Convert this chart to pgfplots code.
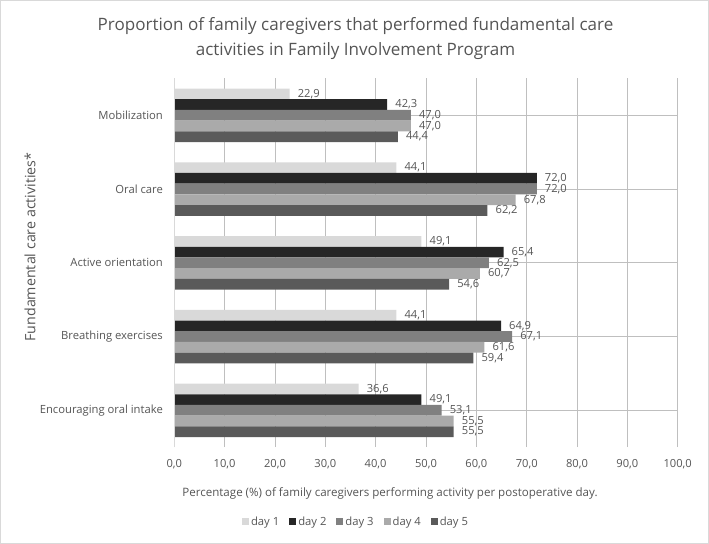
\documentclass[border=0pt]{standalone}
\usepackage{pgfplots}
\pgfplotsset{compat=1.18}
\usepackage{fontspec}
\setmainfont{Open Sans}
\definecolor{txt}{HTML}{555555}
\definecolor{grid}{HTML}{D9D9D9}
\definecolor{dA}{HTML}{D9D9D9}
\definecolor{dB}{HTML}{262626}
\definecolor{dC}{HTML}{808080}
\definecolor{dD}{HTML}{AAAAAA}
\definecolor{dE}{HTML}{5A5A5A}
\begin{document}
\begin{tikzpicture}[x=1bp,y=1bp]
\useasboundingbox (0,0) rectangle (709,544);
\draw[grid, line width=1bp] (0.5,0.5) rectangle (708.5,543.5);
\node[txt, font=\fontsize{17.1}{20}\selectfont] at (355.5,544-26) {Proportion of family caregivers that performed fundamental care};
\node[txt, font=\fontsize{17.1}{20}\selectfont] at (355.5,544-51.5) {activities in Family Involvement Program};
\node[txt, font=\fontsize{14.3}{17}\selectfont, rotate=90] at (30,544-247) {Fundamental care activities*};
\node[txt, font=\fontsize{11.6}{14}\selectfont] at (390,544-493) {Percentage (\%) of family caregivers performing activity per postoperative day.};
\begin{axis}[
  at={(174.3bp,96.8bp)}, anchor=south west,
  scale only axis, width=503.4bp, height=368.8bp,
  xbar, bar width=0.145,
  xmin=0, xmax=100, ymin=-0.5, ymax=4.5,
  xtick={0,10,...,100},
  ytick={0,1,2,3,4},
  yticklabels={Encouraging oral intake, Breathing exercises, Active orientation, Oral care, Mobilization},
  axis line style={draw=none},
  axis x line*=bottom, axis y line*=left,
  tick style={draw=none},
  xmajorgrids, grid style={grid, line width=0.8bp},
  /pgf/number format/.cd, fixed, fixed zerofill, precision=1, use comma, 1000 sep={}, assume math mode=true,
  /pgfplots/.cd,
  ticklabel style={txt},
  xticklabel style={font=\fontsize{11.2}{13}\selectfont, anchor=base, inner sep=0pt, yshift=-20bp},
  yticklabel style={font=\fontsize{11.3}{13}\selectfont, anchor=east, inner sep=0pt, xshift=-7bp},
  nodes near coords,
  every node near coord/.append style={txt, font=\fontsize{11.2}{13}\selectfont, inner sep=0pt, anchor=west, xshift=8bp},
  legend columns=5,
  legend style={draw=none, fill=none, at={(0.361,-0.202)}, anchor=center, font=\fontsize{11.3}{13}\selectfont, text=txt,
     /tikz/every even column/.append style={column sep=8bp}},
  legend image code/.code={\fill[#1] (0bp,-3.5bp) rectangle (7bp,3.5bp);},
  extra description/.code={\draw[grid, line width=0.8bp] (axis cs:0,-0.5) -- (axis cs:0,4.5);},
]
\addplot[fill=dA, draw=none, bar shift=0.29] coordinates {(22.9,4) (44.1,3) (49.1,2) (44.1,1) (36.6,0)};
\addplot[fill=dB, draw=none, bar shift=0.145] coordinates {(42.3,4) (72.0,3) (65.4,2) (64.9,1) (49.1,0)};
\addplot[fill=dC, draw=none, bar shift=0] coordinates {(47.0,4) (72.0,3) (62.5,2) (67.1,1) (53.1,0)};
\addplot[fill=dD, draw=none, bar shift=-0.145] coordinates {(47.0,4) (67.8,3) (60.7,2) (61.6,1) (55.5,0)};
\addplot[fill=dE, draw=none, bar shift=-0.29] coordinates {(44.4,4) (62.2,3) (54.6,2) (59.4,1) (55.5,0)};
\legend{day 1, day 2, day 3, day 4, day 5}
\end{axis}
\end{tikzpicture}
\end{document}
